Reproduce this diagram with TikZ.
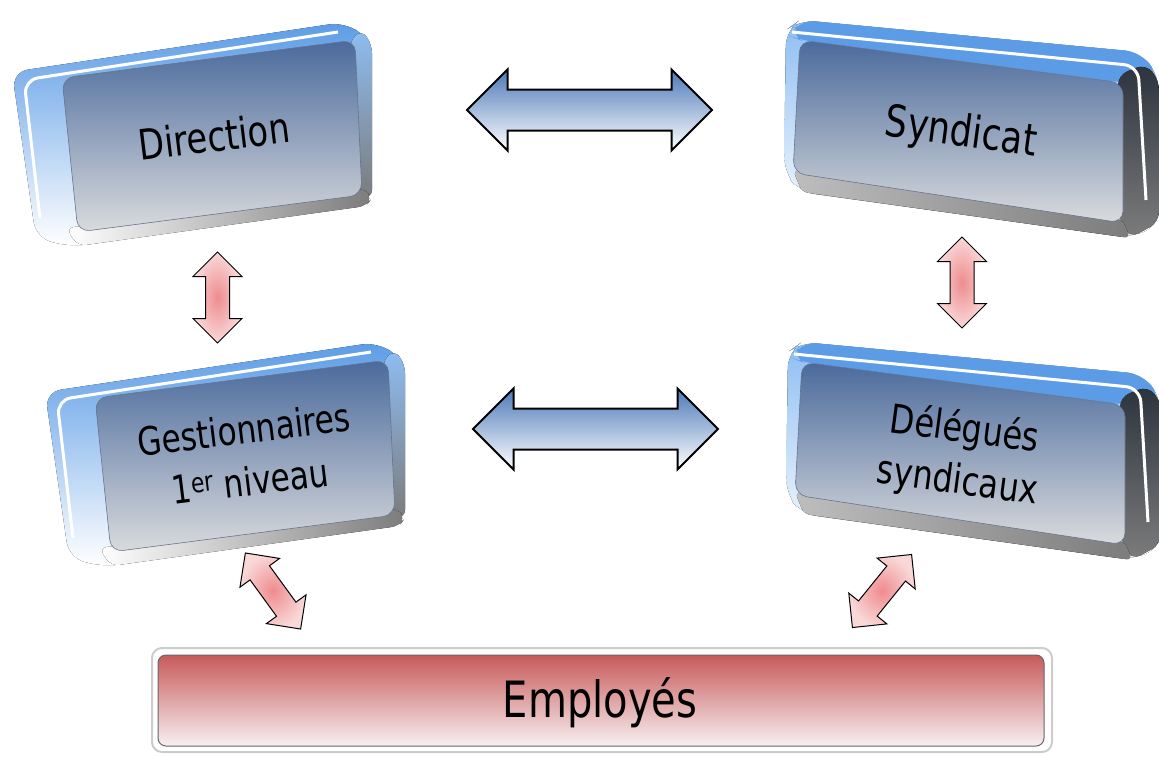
\documentclass[tikz,border=0pt]{standalone}
\usepackage{fontspec}
\setmainfont{DejaVu Sans}
\newfontfamily\boxfont[FakeStretch=0.8]{DejaVu Sans}
\usepackage{tikz}
\usetikzlibrary{shapes, arrows, positioning}
\usepackage{xcolor}
\definecolor{cFaceTop}{HTML}{4A6A9C}
\definecolor{cFaceMid}{HTML}{A6B3C7}
\definecolor{cFaceBot}{HTML}{DADBDD}
\definecolor{cRim}{HTML}{5C9CE6}
\definecolor{cRimLight}{HTML}{8DBDF2}
\definecolor{cSideDark}{HTML}{2C333D}
\definecolor{cSideGray}{HTML}{7C7C7C}
\definecolor{cBarTop}{HTML}{C85A5A}
\definecolor{cBarMid}{HTML}{D9A2A4}
\definecolor{cBarBot}{HTML}{F7F0F2}
\definecolor{cBlueArrow}{HTML}{4D79B9}
\definecolor{cPinkIn}{HTML}{EE8C8E}
\definecolor{cPinkOut}{HTML}{F9D8D8}
\tikzset{
  boxtext/.style = {
    font=\boxfont\fontsize{42}{52}\selectfont,
    align=center,
    text=black,
    inner sep=0pt
  },
  frontface/.style = {
    rounded corners=12pt,
    top color=cFaceTop,
    middle color=cFaceMid,
    bottom color=cFaceBot,
    draw=cFaceTop!50!gray,
    line width=0.6pt
  },
  rimline/.style = {
    draw=white,
    line width=3pt,
    rounded corners=14pt
  },
  bluearrow/.style = {
    double arrow,
    draw=black,
    line width=2pt,
    top color=cBlueArrow,
    bottom color=white,
    minimum height=245pt,
    inner xsep=0pt,
    inner ysep=19.5pt,
    double arrow head extend=20pt
  },
  pinkarrow/.style = {
    double arrow,
    draw=black,
    line width=1pt,
    inner color=cPinkIn,
    outer color=cPinkOut,
    minimum height=91pt,
    inner xsep=0pt,
    inner ysep=11.5pt,
    double arrow head extend=12.5pt
  },
}

% slab seen from the left (thickness on the left and below)
\newcommand{\slabLeft}{%
  \fill [rounded corners=16pt, top color=cRim, bottom color=white]
    (12,72) -- (345,22) -- (370,40) -- (372,198) -- (72,247) -- (36,238) -- cycle;
  \fill [rounded corners=8pt, top color=cRimLight, bottom color=cSideGray]
    (350,40) -- (362,30) -- (372,45) -- (372,198) -- (360,196) -- cycle;
  \fill [rounded corners=8pt, left color=white, right color=cSideGray]
    (66,228) -- (364,188) -- (372,198) -- (366,206) -- (78,246) -- cycle;
  \draw [rimline] (40,218) -- (24,80) -- (338,32);
  \draw [frontface] (62,78) -- (355,40) -- (362,195) -- (78,232) -- cycle;
}
% slab seen from the right (thickness on the right and below)
\newcommand{\slabRight}{%
  \fill [rounded corners=16pt, top color=cRimLight, bottom color=white]
    (786,30) -- (800,20) -- (1140,52) -- (1159,76) -- (1159,225) -- (1130,238) -- (800,192) -- (784,172) -- cycle;
  \fill [rounded corners=14pt, cRim]
    (790,36) -- (800,20) -- (1140,52) -- (1159,76) -- (1123,83) -- (800,40) -- cycle;
  \fill [rounded corners=10pt, top color=cSideDark, bottom color=cSideGray]
    (1118,75) -- (1146,64) -- (1159,80) -- (1159,222) -- (1130,238) -- (1120,224) -- cycle;
  \fill [rounded corners=6pt, left color=cSideGray!50, right color=cSideGray]
    (793,170) -- (1123,220) -- (1130,238) -- (802,192) -- cycle;
  \draw [rimline] (792,32) -- (1138,66) -- (1146,200);
  \draw [frontface] (800,40) -- (1123,83) -- (1123,223) -- (793,173) -- cycle;
}

\begin{document}
\begin{tikzpicture}[x=1pt, y=-1pt]
    \useasboundingbox (0,0) rectangle (1159,756);
    % boxes
    \slabLeft
    \begin{scope}[shift={(33,320)}]
      \slabLeft
    \end{scope}
    \slabRight
    \begin{scope}[shift={(2,322)}]
      \slabRight
    \end{scope}
    \node [rotate=7, boxtext] (box-dir) at (214,136) {Direction};
    \node [rotate=-7.6, boxtext, font=\boxfont\fontsize{44}{52}\selectfont] (box-syn) at (961,134) {Syndicat};
    \node [rotate=7, boxtext, font=\boxfont\fontsize{39}{52}\selectfont] (box-ges) at (247,455) {Gestionnaires\\1\textsuperscript{er} niveau};
    \node [rotate=-7.6, boxtext, font=\boxfont\fontsize{40}{52}\selectfont] (box-del) at (961,456) {Délégués\\syndicaux};
    % employees bar
    \draw [rounded corners=10pt, fill=white, draw=black!20, line width=2pt] (152,648) rectangle (1052,752);
    \draw [rounded corners=8pt, top color=cBarTop, middle color=cBarMid, bottom color=cBarBot, draw=black!60, line width=1pt]
      (158,655) rectangle (1044,746);
    \node [boxtext, font=\boxfont\fontsize{50}{60}\selectfont] (box-emp) at (600,703) {Employés};
    % arrows
    \node [bluearrow] (arr-top) at (589.5,110) {};
    \node [bluearrow] (arr-mid) at (595.5,429) {};
    \node [pinkarrow, rotate=90] (arr-left) at (217.5,297.5) {};
    \node [pinkarrow, rotate=90] (arr-right) at (962,282.5) {};
    \node [pinkarrow, rotate=-54, minimum height=94pt] (arr-dl) at (273,591) {};
    \node [pinkarrow, rotate=51, minimum height=94pt] (arr-dr) at (882,591) {};
  \end{tikzpicture}
\end{document}
